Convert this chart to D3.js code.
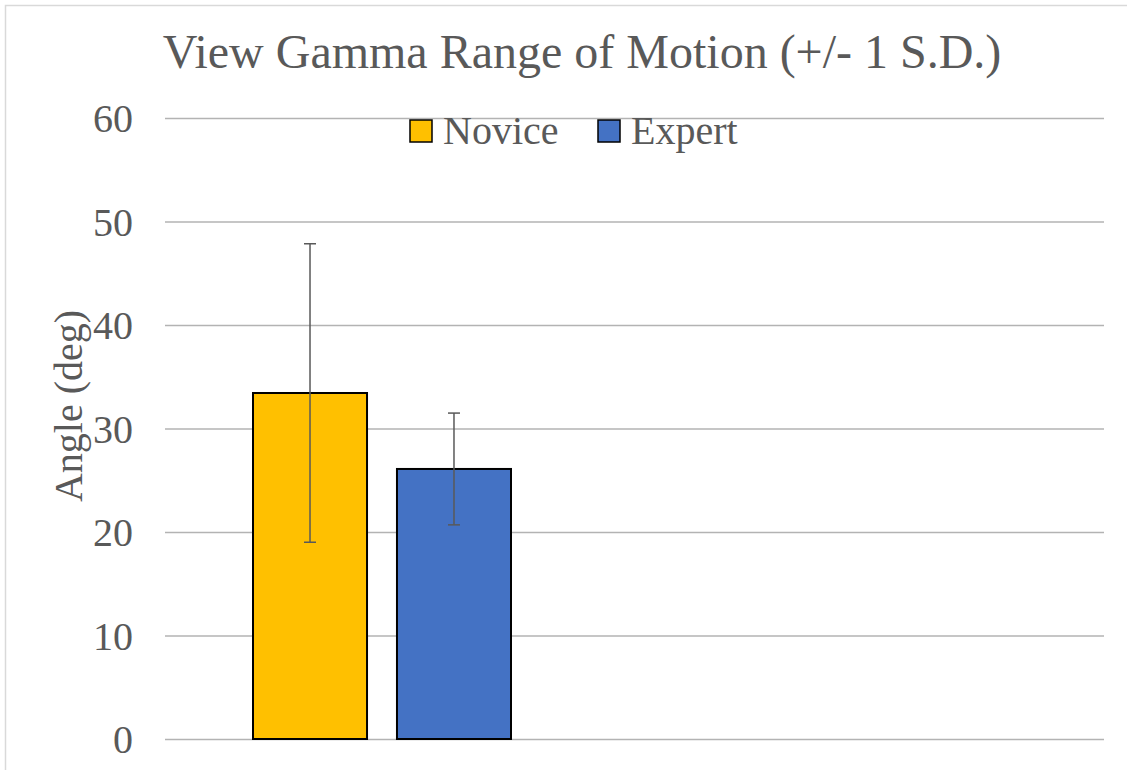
<!DOCTYPE html>
<html>
<head>
<meta charset="utf-8">
<script src="https://cdn.jsdelivr.net/npm/d3@7"></script>
</head>
<body style="margin:0">
<div id="chart"></div>
<script>
// chart values
const series = ['Novice', 'Expert'];
const means = [33.43, 26.09];
const sds = [14.42, 5.40];
const colors = ['#FFC000', '#4472C4'];
const yTicks = [0, 10, 20, 30, 40, 50, 60];
const titleText = 'View Gamma Range of Motion (+/- 1 S.D.)';
const yLabel = 'Angle (deg)';

const width = 1127;
const height = 770;
const plot = { left: 165, right: 1104, top: 118, bottom: 739 };
const textColor = '#595959';
const serif = '"Liberation Serif", "Times New Roman", Times, serif';

const svg = d3.select('#chart').append('svg')
  .attr('width', width)
  .attr('height', height)
  .style('display', 'block');

// chart frame (runs off the right and bottom edges)
svg.append('rect')
  .attr('x', 5.5)
  .attr('y', 5.5)
  .attr('width', width + 20)
  .attr('height', height + 20)
  .attr('fill', 'none')
  .attr('stroke', '#d9d9d9')
  .attr('stroke-width', 1.5);

const y = d3.scaleLinear().domain([0, 60]).range([plot.bottom, plot.top]);

// the bars sit in the left part of the plot area
const x = d3.scaleBand()
  .domain(series)
  .range([plot.left + 88, plot.left + 346])
  .paddingInner(0.208)
  .paddingOuter(0);

// gridlines + tick labels
const yAxis = d3.axisLeft(y)
  .tickValues(yTicks)
  .tickSize(-(plot.right - plot.left))
  .tickPadding(32);

const gAxis = svg.append('g')
  .attr('transform', `translate(${plot.left},0)`)
  .call(yAxis);

gAxis.select('.domain').remove();
gAxis.selectAll('.tick line')
  .attr('stroke', '#b3b3b3')
  .attr('stroke-width', 1.5);
gAxis.selectAll('.tick text')
  .attr('fill', textColor)
  .attr('dy', '0.34em')
  .style('font-family', serif)
  .style('font-size', '40px');

// bars
svg.append('g')
  .selectAll('rect')
  .data(series)
  .join('rect')
  .attr('x', d => x(d))
  .attr('y', (d, i) => y(means[i]))
  .attr('width', x.bandwidth())
  .attr('height', (d, i) => y(0) - y(means[i]))
  .attr('fill', (d, i) => colors[i])
  .attr('stroke', '#000')
  .attr('stroke-width', 2);

// error bars
const err = svg.append('g')
  .attr('stroke', '#595959')
  .attr('stroke-width', 1.5)
  .selectAll('g')
  .data(series)
  .join('g')
  .attr('transform', d => `translate(${x(d) + x.bandwidth() / 2},0)`);

err.append('line')
  .attr('y1', (d, i) => y(means[i] + sds[i]))
  .attr('y2', (d, i) => y(means[i] - sds[i]));
err.append('line')
  .attr('x1', -6).attr('x2', 6)
  .attr('y1', (d, i) => y(means[i] + sds[i]))
  .attr('y2', (d, i) => y(means[i] + sds[i]));
err.append('line')
  .attr('x1', -6).attr('x2', 6)
  .attr('y1', (d, i) => y(means[i] - sds[i]))
  .attr('y2', (d, i) => y(means[i] - sds[i]));

// title
svg.append('text')
  .attr('x', 582)
  .attr('y', 68)
  .attr('text-anchor', 'middle')
  .attr('fill', textColor)
  .style('font-family', serif)
  .style('font-size', '48px')
  .text(titleText);

// y axis label
svg.append('text')
  .attr('transform', 'translate(82,406) rotate(-90)')
  .attr('text-anchor', 'middle')
  .attr('fill', textColor)
  .style('font-family', serif)
  .style('font-size', '40px')
  .text(yLabel);

// legend
const legendX = [410, 598];
const legend = svg.append('g')
  .selectAll('g')
  .data(series)
  .join('g')
  .attr('transform', (d, i) => `translate(${legendX[i]},120)`);

legend.append('rect')
  .attr('width', 22)
  .attr('height', 22)
  .attr('fill', (d, i) => colors[i])
  .attr('stroke', '#000')
  .attr('stroke-width', 1.5);

legend.append('text')
  .attr('x', 33)
  .attr('y', 24)
  .attr('fill', textColor)
  .style('font-family', serif)
  .style('font-size', '40px')
  .text(d => d);
</script>
</body>
</html>
